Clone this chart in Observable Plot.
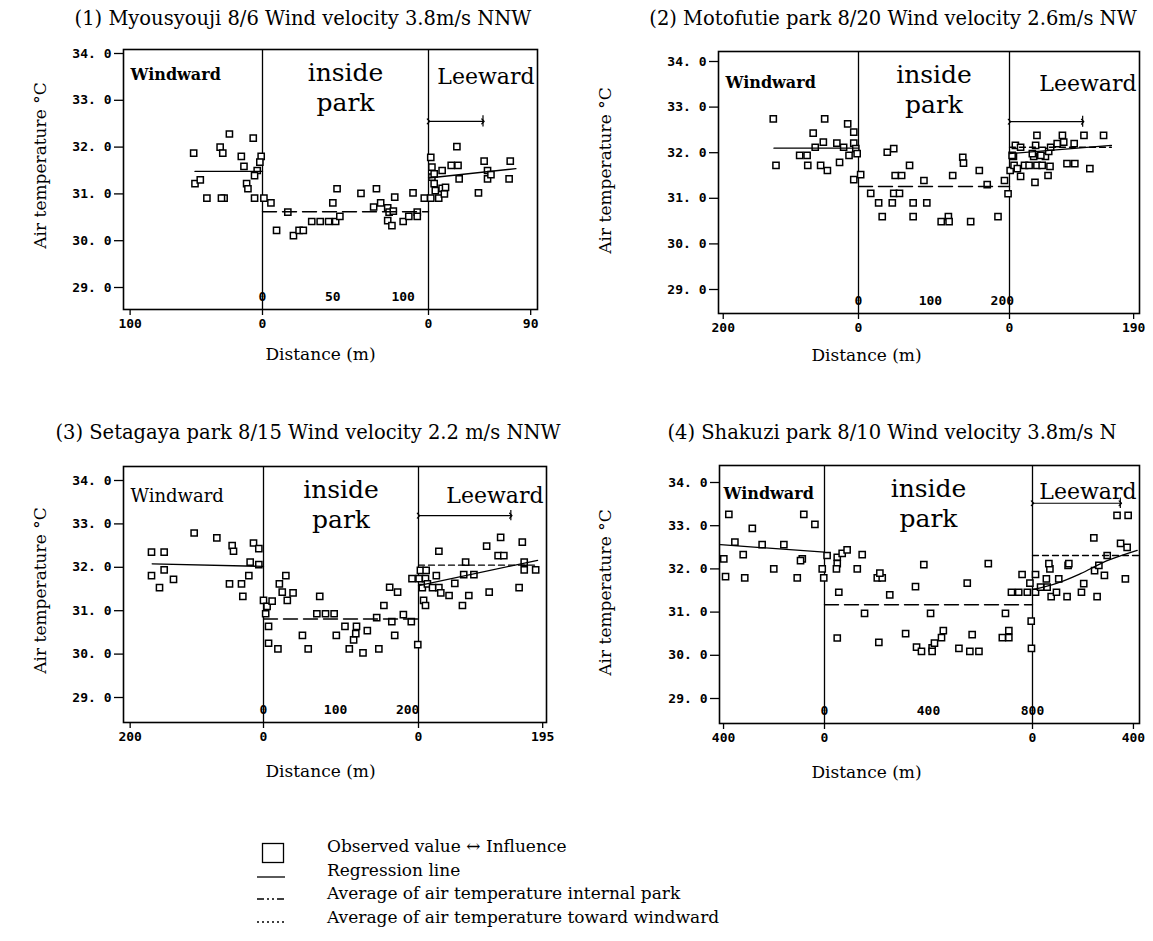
<!DOCTYPE html>
<html>
<head>
<meta charset="utf-8">
<script src="https://cdn.jsdelivr.net/npm/d3@7"></script>
<script src="https://cdn.jsdelivr.net/npm/@observablehq/plot@0.6"></script>
<style>
  html, body { margin: 0; padding: 0; background: #fff; }
  #wrap { position: relative; width: 1153px; height: 941px; overflow: hidden; background: #fff; }
  .title { position: absolute; width: 640px; text-align: center; white-space: nowrap;
           font-family: "DejaVu Serif", serif; font-size: 19.5px; color: #000; line-height: 22px; }
  .leg { position: absolute; white-space: nowrap; font-family: "DejaVu Serif", serif; font-size: 17px; color: #000; line-height: 20px; }
</style>
</head>
<body>
<div id="wrap"></div>
<script>
// ---------------- DATA ----------------
const TEMP_TICKS = [29, 30, 31, 32, 33, 34];

// Panel 1
const p1Title = "(1) Myousyouji 8/6 Wind velocity 3.8m/s NNW";
const p1ParkWidth = 118;
const p1WindTick = 100, p1LeeTick = 90;
const p1ParkTicks = [0, 50, 100];
const p1Windward = [[25,32.28],[7,32.19],[52,31.87],[32,32.0],[30,31.87],[16,31.80],[1,31.80],[2,31.68],[14,31.59],[4,31.50],[6,31.39],[51,31.22],[47,31.30],[42,30.91],[29,30.91],[31,30.91],[12,31.22],[11,31.11],[6,30.91]];
const p1Park = [[1,30.91],[6,30.81],[10,30.22],[18,30.61],[22,30.11],[26,30.22],[29,30.22],[35,30.41],[41,30.41],[47,30.41],[52,30.41],[50,30.81],[53,31.11],[55,30.52],[70,31.01],[81,31.11],[79,30.72],[84,30.81],[89,30.70],[90,30.61],[89,30.43],[92,30.32],[94,30.93],[93,30.63],[100,30.41],[104,30.52],[107,31.02],[110,30.61],[110,30.52],[115,30.91]];
const p1Leeward = [[2,30.91],[9,30.91],[2,31.78],[3,31.57],[5,31.22],[3,31.36],[6,31.07],[12,31.12],[14,31.0],[15,31.14],[5,31.43],[12,31.5],[20,31.61],[26,31.61],[27,31.32],[44,31.02],[49,31.70],[52,31.50],[52,31.32],[55,31.41],[72,31.70],[71,31.32],[25,32.01]];
const p1WindReg = [[51,31.48],[0,31.48]];
const p1ParkAvg = 30.62;
const p1LeeReg = [[0,31.34],[77,31.54]];
const p1LeeAvg = null;
const p1Influence = [48, 32.55];

// Panel 2
const p2Title = "(2) Motofutie park 8/20 Wind velocity 2.6m/s NW";
const p2ParkWidth = 210;
const p2WindTick = 200, p2LeeTick = 190;
const p2ParkTicks = [0, 100, 200];
const p2Windward = [[126,32.74],[50,32.74],[16,32.63],[7,32.45],[67,32.43],[52,32.23],[64,32.12],[32,32.21],[22,32.12],[7,32.21],[4,32.09],[87,31.94],[76,31.94],[14,31.94],[2,31.98],[122,31.72],[75,31.72],[56,31.72],[46,31.61],[28,31.79],[7,31.41]];
const p2Park = [[3,31.52],[17,31.11],[28,30.90],[33,30.60],[40,32.01],[49,32.09],[47,30.90],[49,31.11],[57,31.11],[51,31.50],[60,31.50],[71,31.72],[76,30.90],[76,30.60],[91,31.39],[95,30.90],[115,30.49],[125,30.60],[126,30.49],[131,31.50],[145,31.90],[146,31.77],[156,30.49],[168,31.61],[179,31.30],[194,30.60],[203,31.39],[208,31.10]];
const p2Leeward = [[1,31.61],[7,31.72],[6,31.92],[12,31.65],[17,31.48],[23,31.72],[30,31.72],[37,31.92],[39,31.35],[42,31.72],[50,31.72],[55,31.92],[59,31.50],[62,31.70],[88,31.76],[100,31.76],[123,31.65],[60,32.03],[9,32.16],[17,32.12],[42,32.38],[40,32.16],[63,32.12],[73,32.20],[81,32.38],[83,32.23],[99,32.20],[114,32.38],[144,32.38],[4,31.94],[35,31.98],[48,31.94]];
const p2WindReg = [[125,32.10],[0,32.10]];
const p2ParkAvg = 31.26;
const p2LeeReg = [[0,31.98],[156,32.16]];
const p2LeeAvg = [32.12, 156];
const p2Influence = [112, 32.68];

// Panel 3
const p3Title = "(3) Setagaya park 8/15 Wind velocity 2.2 m/s NNW";
const p3ParkWidth = 215;
const p3WindTick = 200, p3LeeTick = 195;
const p3ParkTicks = [0, 100, 200];
const p3Windward = [[168,32.35],[149,32.35],[104,32.79],[70,32.68],[47,32.50],[45,32.37],[15,32.56],[7,32.43],[20,32.12],[7,32.06],[168,31.81],[156,31.53],[149,31.94],[135,31.72],[51,31.62],[33,31.62],[31,31.33],[22,31.81]];
const p3Park = [[0,31.24],[3,30.93],[5,31.10],[12,31.22],[7,30.64],[7,30.25],[20,30.12],[22,31.62],[31,31.81],[26,31.43],[33,31.24],[41,31.41],[54,30.43],[62,30.12],[78,31.33],[74,30.93],[86,30.93],[98,30.93],[101,30.43],[113,30.64],[119,30.12],[125,30.33],[128,30.47],[129,30.64],[138,30.03],[144,30.54],[157,30.84],[160,30.12],[167,31.12],[175,31.54],[186,31.43],[178,30.75],[182,30.43],[194,30.91],[205,30.75],[206,31.74],[214,30.22]];
const p3Leeward = [[1,31.74],[11,31.74],[3,31.93],[12,31.93],[6,31.53],[8,31.24],[11,31.12],[14,31.62],[22,31.53],[28,31.81],[32,31.53],[35,31.41],[48,31.35],[57,31.63],[69,31.12],[79,31.35],[74,32.12],[71,31.83],[87,31.83],[111,31.43],[158,31.53],[166,31.94],[184,31.94],[166,32.12],[32,32.37],[107,32.49],[129,32.69],[125,32.27],[134,32.27],[163,32.58]];
const p3WindReg = [[167,32.08],[0,32.02]];
const p3ParkAvg = 30.81;
const p3LeeReg = [[0,31.58],[187,32.16]];
const p3LeeAvg = [32.05, 187];
const p3Influence = [145, 33.19];

// Panel 4
const p4Title = "(4) Shakuzi park 8/10 Wind velocity 3.8m/s N";
const p4ParkWidth = 800;
const p4WindTick = 400, p4LeeTick = 400;
const p4ParkTicks = [0, 400, 800];
const p4Windward = [[379,33.26],[82,33.26],[38,33.03],[286,32.94],[355,32.62],[247,32.56],[161,32.56],[399,32.23],[322,32.33],[88,32.23],[392,31.82],[316,31.79],[201,32.0],[108,31.79],[95,32.19],[9,32.0],[3,31.79]];
const p4Park = [[10,32.31],[49,32.27],[68,32.36],[87,32.44],[49,32.12],[145,32.33],[382,32.10],[630,32.12],[46,32.0],[55,31.46],[49,30.40],[126,32.0],[154,30.97],[203,31.79],[222,31.79],[213,31.90],[209,30.30],[251,31.40],[312,30.50],[350,31.59],[354,30.19],[373,30.09],[408,30.97],[414,30.17],[414,30.09],[423,30.28],[450,30.41],[457,30.57],[517,30.16],[549,31.67],[568,30.48],[559,30.09],[594,30.09],[684,30.41],[709,30.57],[709,30.41],[696,30.97],[719,31.46],[747,31.46],[780,31.46],[760,31.87],[795,30.79],[796,30.16],[790,31.67]];
const p4Leeward = [[12,31.46],[12,31.87],[32,31.58],[58,31.58],[55,31.77],[69,32.0],[74,31.36],[95,31.46],[104,31.77],[137,31.36],[141,32.08],[194,31.46],[203,31.66],[256,31.36],[246,31.96],[263,32.08],[285,31.85],[368,31.77],[65,32.12],[144,32.12],[243,32.72],[335,33.24],[379,33.24],[349,32.59],[375,32.50],[296,32.31]];
const p4WindReg = [[412,32.56],[0,32.39]];
const p4ParkAvg = 31.17;
const p4LeeReg = [[0,31.52],[98,31.67],[190,31.89],[296,32.19],[415,32.43]];
const p4LeeAvg = [32.31, 424];
const p4Influence = [348, 33.52];

const LEGEND_LABELS = [
  "Observed value \u2194 Influence",
  "Regression line",
  "Average of air temperature internal park",
  "Average of air temperature toward windward"
];

// ---------------- LAYOUT (page pixels) ----------------
const PANELS = [
  {title: p1Title, W: p1ParkWidth, windTick: p1WindTick, leeTick: p1LeeTick, parkTicks: p1ParkTicks,
   windward: p1Windward, park: p1Park, leeward: p1Leeward, windReg: p1WindReg, parkAvg: p1ParkAvg,
   leeReg: p1LeeReg, leeAvg: p1LeeAvg, influence: p1Influence,
   L: {left: 0, top: 0, w: 576, h: 400, fL: 123, fR: 537, fT: 49, fB: 309, x0: 262, xW: 428, windEdge: 105, leeEdge: 96,
       y29: 287, y34: 53, titleX: 303, titleY: 19, windBold: true, windSize: 16, windDx: 7, windDy: 19, leeDy: 19,
       yTitleDx: -83, yTitleDy: -14, distX: 320, distDy: 50}},
  {title: p2Title, W: p2ParkWidth, windTick: p2WindTick, leeTick: p2LeeTick, parkTicks: p2ParkTicks,
   windward: p2Windward, park: p2Park, leeward: p2Leeward, windReg: p2WindReg, parkAvg: p2ParkAvg,
   leeReg: p2LeeReg, leeAvg: p2LeeAvg, influence: p2Influence,
   L: {left: 576, top: 0, w: 577, h: 400, fL: 718, fR: 1139, fT: 51, fB: 313, x0: 858, xW: 1009, windEdge: 207, leeEdge: 199,
       y29: 289, y34: 61, titleX: 893, titleY: 19, windBold: true, windSize: 16, windDx: 7, windDy: 25, leeDy: 24,
       yTitleDx: -113, yTitleDy: -12, distX: 866, distDy: 47}},
  {title: p3Title, W: p3ParkWidth, windTick: p3WindTick, leeTick: p3LeeTick, parkTicks: p3ParkTicks,
   windward: p3Windward, park: p3Park, leeward: p3Leeward, windReg: p3WindReg, parkAvg: p3ParkAvg,
   leeReg: p3LeeReg, leeAvg: p3LeeAvg, influence: p3Influence,
   L: {left: 0, top: 400, w: 576, h: 420, fL: 123, fR: 546, fT: 466, fB: 722, x0: 263, xW: 418, windEdge: 210, leeEdge: 201,
       y29: 697, y34: 480, titleX: 308, titleY: 433, windBold: false, windSize: 18, windDx: 7, windDy: 23, leeDy: 21,
       yTitleDx: -83, yTitleDy: -4, distX: 320, distDy: 54}},
  {title: p4Title, W: p4ParkWidth, windTick: p4WindTick, leeTick: p4LeeTick, parkTicks: p4ParkTicks,
   windward: p4Windward, park: p4Park, leeward: p4Leeward, windReg: p4WindReg, parkAvg: p4ParkAvg,
   leeReg: p4LeeReg, leeAvg: p4LeeAvg, influence: p4Influence,
   L: {left: 576, top: 400, w: 577, h: 420, fL: 719, fR: 1139, fT: 465, fB: 723, x0: 824, xW: 1032, windEdge: 416, leeEdge: 424,
       y29: 698, y34: 482, titleX: 892, titleY: 433, windBold: true, windSize: 16, windDx: 4, windDy: 22, leeDy: 18,
       yTitleDx: -114, yTitleDy: -2, distX: 866, distDy: 54}}
];

const SERIF = "DejaVu Serif";
const MONO = "DejaVu Sans Mono";

function makePanel(p) {
  const L = p.L, W = p.W;
  const pts = [
    ...p.windward.map(([d, t]) => ({x: -d, t})),
    ...p.park.map(([d, t]) => ({x: d, t})),
    ...p.leeward.map(([d, t]) => ({x: W + d, t}))
  ];
  const xTicks = [-p.windTick, 0, W, W + p.leeTick];
  const xLabels = new Map([[-p.windTick, String(p.windTick)], [0, "0"], [W, "0"], [W + p.leeTick, String(p.leeTick)]]);
  const windReg = p.windReg.map(([d, t]) => ({x: -d, t}));
  const leeReg = p.leeReg.map(([d, t]) => ({x: W + d, t}));
  const parkAvg = [{x: 0, t: p.parkAvg}, {x: W, t: p.parkAvg}];
  const leeAvg = p.leeAvg ? [{x: W, t: p.leeAvg[0]}, {x: W + p.leeAvg[1], t: p.leeAvg[0]}] : [];
  const arrow = [{x1: W, x2: W + p.influence[0], t: p.influence[1]}];

  const svg = Plot.plot({
    width: L.w, height: L.h,
    marginLeft: L.fL - L.left, marginRight: L.left + L.w - L.fR,
    marginTop: L.fT - L.top, marginBottom: L.top + L.h - L.fB,
    x: {type: "linear", domain: [-L.windEdge, 0, W, W + L.leeEdge],
        range: [L.fL, L.x0, L.xW, L.fR].map(v => v - L.left)},
    y: {type: "linear", domain: [29, 34], range: [L.y29 - L.top, L.y34 - L.top]},
    style: {background: "transparent", color: "black", overflow: "visible"},
    marks: [
      Plot.ruleX([0, W], {stroke: "black", strokeWidth: 1.3}),
      Plot.frame({stroke: "black", strokeWidth: 1.6}),
      Plot.axisY({ticks: TEMP_TICKS, tickFormat: d => d.toFixed(1).replace(".", ". "), tickSize: 9, tickPadding: 3,
                  fontFamily: MONO, fontWeight: "bold", fontSize: 13, label: null, strokeWidth: 1.3}),
      Plot.axisX({ticks: xTicks, tickFormat: d => xLabels.get(d), tickSize: 6, tickPadding: 3,
                  fontFamily: MONO, fontWeight: "bold", fontSize: 13, label: null, strokeWidth: 1.3}),
      Plot.text(p.parkTicks, {x: d => d, text: d => String(d), frameAnchor: "bottom", dy: -9,
                  fontFamily: MONO, fontWeight: "bold", fontSize: 13}),
      // section labels
      Plot.text(["Windward"], {frameAnchor: "top-left", textAnchor: "start", dx: L.windDx, dy: L.windDy,
                  fontFamily: SERIF, fontWeight: L.windBold ? "bold" : "normal", fontSize: L.windSize}),
      Plot.text(["inside\npark"], {x: () => W / 2, frameAnchor: "top", lineAnchor: "top", lineHeight: 1.2, dy: 10,
                  fontFamily: SERIF, fontSize: 25}),
      Plot.text(["Leeward"], {frameAnchor: "top-right", textAnchor: "end", dx: -3, dy: L.leeDy,
                  fontFamily: SERIF, fontSize: 22}),
      // axis titles
      Plot.text(["Air temperature \u00B0C"], {frameAnchor: "left", textAnchor: "middle", rotate: -90,
                  dx: L.yTitleDx, dy: L.yTitleDy, fontFamily: SERIF, fontSize: 17}),
      Plot.text(["Distance (m)"], {frameAnchor: "bottom-left", textAnchor: "middle", dx: L.distX - L.fL, dy: L.distDy,
                  fontFamily: SERIF, fontSize: 17}),
      // influence arrow
      Plot.link(arrow, {x1: "x1", x2: "x2", y1: "t", y2: "t", stroke: "black", strokeWidth: 1.2,
                  markerStart: "arrow", markerEnd: "arrow"}),
      Plot.ruleX(arrow, {x: "x2", y1: d => d.t - 0.12, y2: d => d.t + 0.12, stroke: "black", strokeWidth: 1.2}),
      // observations
      Plot.dot(pts, {x: "x", y: "t", symbol: "square", r: 3.5, stroke: "black", fill: "white", strokeWidth: 1.5}),
      // lines
      Plot.line(windReg, {x: "x", y: "t", stroke: "black", strokeWidth: 1.3}),
      Plot.line(parkAvg, {x: "x", y: "t", stroke: "black", strokeWidth: 1.4, strokeDasharray: "14,6"}),
      Plot.line(leeAvg, {x: "x", y: "t", stroke: "black", strokeWidth: 1.3, strokeDasharray: "6,4"}),
      Plot.line(leeReg, {x: "x", y: "t", stroke: "black", strokeWidth: 1.3, curve: "catmull-rom"})
    ]
  });
  svg.style.position = "absolute";
  svg.style.left = L.left + "px";
  svg.style.top = L.top + "px";
  svg.style.maxWidth = "none";
  return svg;
}

const wrap = document.getElementById("wrap");
for (const p of PANELS) {
  wrap.appendChild(makePanel(p));
  const t = document.createElement("div");
  t.className = "title";
  t.textContent = p.title;
  t.style.left = (p.L.titleX - 320) + "px";
  t.style.top = (p.L.titleY - 11) + "px";
  wrap.appendChild(t);
}

// ---------------- LEGEND ----------------
const LEG_Y = [846, 870, 893, 917];
LEGEND_LABELS.forEach((txt, i) => {
  const d = document.createElement("div");
  d.className = "leg";
  d.textContent = txt;
  d.style.left = "327px";
  d.style.top = (LEG_Y[i] - 10) + "px";
  wrap.appendChild(d);
});
const ns = "http://www.w3.org/2000/svg";
const ls = document.createElementNS(ns, "svg");
ls.setAttribute("width", 60); ls.setAttribute("height", 100);
ls.style.position = "absolute"; ls.style.left = "250px"; ls.style.top = "835px";
ls.innerHTML =
  '<rect x="12.5" y="8.5" width="21" height="19" fill="none" stroke="black" stroke-width="1.3"/>' +
  '<line x1="7" x2="35" y1="42" y2="42" stroke="black" stroke-width="1.3"/>' +
  '<line x1="7" x2="35" y1="64" y2="64" stroke="black" stroke-width="1.6" stroke-dasharray="7,3,2,3,2,3"/>' +
  '<line x1="7" x2="35" y1="87" y2="87" stroke="black" stroke-width="1.6" stroke-dasharray="2,3"/>';
wrap.appendChild(ls);
</script>
</body>
</html>
